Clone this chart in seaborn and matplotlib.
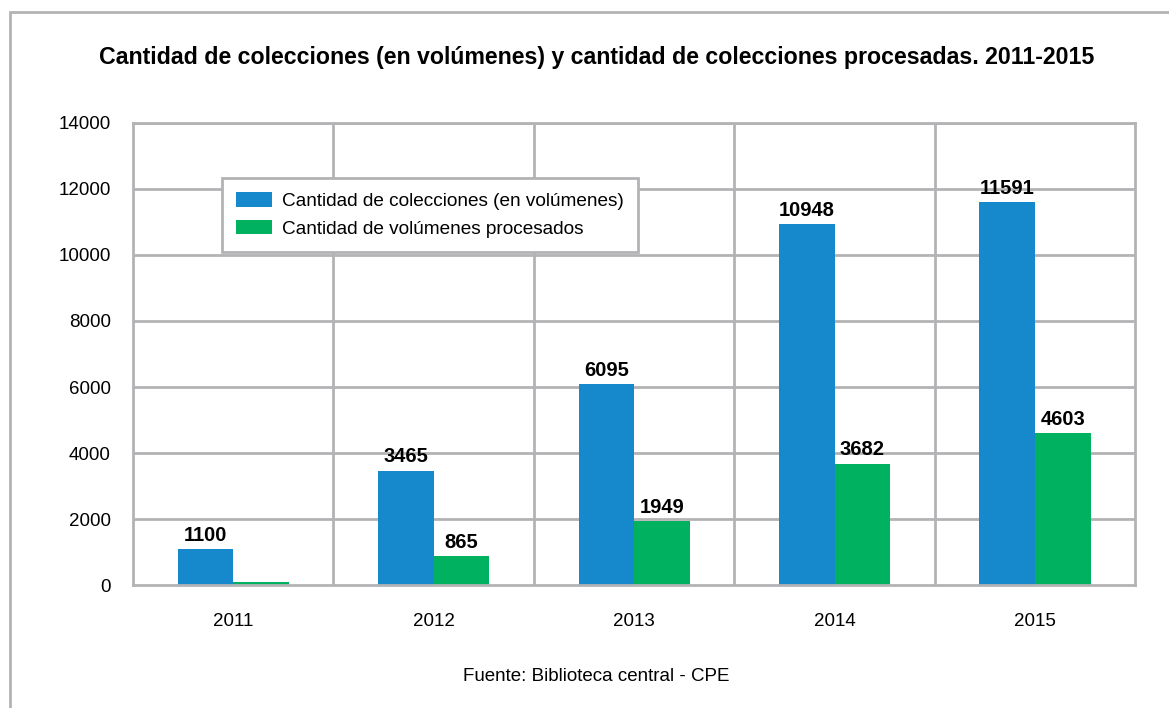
import pandas as pd
import matplotlib.pyplot as plt
import seaborn as sns
from matplotlib.patches import Rectangle

years = ["2011", "2012", "2013", "2014", "2015"]
colecciones = [1100, 3465, 6095, 10948, 11591]
procesados = [90, 865, 1949, 3682, 4603]
label_colecciones = ["1100", "3465", "6095", "10948", "11591"]
label_procesados = ["", "865", "1949", "3682", "4603"]
series = ["Cantidad de colecciones (en volúmenes)", "Cantidad de volúmenes procesados"]
colors = ["#1589CB", "#00B160"]

df = pd.DataFrame({
    "Year": years * 2,
    "Valor": colecciones + procesados,
    "Serie": [series[0]] * len(years) + [series[1]] * len(years),
})

sns.set_theme(style="white")
plt.rcParams["font.family"] = ["Liberation Sans", "DejaVu Sans"]
plt.rcParams["text.color"] = "black"
grid_c = "#b3b3b5"

fig = plt.figure(figsize=(11.69, 7.08), dpi=100)
ax = fig.add_axes([0.1138, 0.1737, 0.8573, 0.6526])

sns.barplot(data=df, x="Year", y="Valor", hue="Serie", palette=colors,
            width=0.555, saturation=1, linewidth=0, ax=ax, legend=True)

ax.set_ylim(0, 14000)
ax.set_xlim(-0.5, len(years) - 0.5)
ax.set_yticks(range(0, 14001, 2000))
ax.set_xlabel("")
ax.set_ylabel("")

# grid: horizontal at ticks, vertical at category boundaries
for y in range(2000, 14001, 2000):
    ax.axhline(y, color=grid_c, lw=2, zorder=0)
for i in range(1, len(years)):
    ax.axvline(i - 0.5, color=grid_c, lw=2, zorder=0)
for s in ax.spines.values():
    s.set_color(grid_c)
    s.set_linewidth(2)
    s.set_visible(True)

ax.tick_params(axis="both", length=0, labelsize=13.5, colors="black")
ax.tick_params(axis="x", pad=20)
ax.tick_params(axis="y", pad=16)

for cont, labs in zip(ax.containers, [label_colecciones, label_procesados]):
    ax.bar_label(cont, labels=labs, padding=3, fontsize=14.5, fontweight="bold",
                 color="black")

leg = ax.legend(loc="upper left", bbox_to_anchor=(0.0888, 0.881), borderaxespad=0,
                frameon=True, fancybox=False, edgecolor=grid_c, framealpha=1,
                fontsize=13.7, handlelength=1.9, handleheight=0.8,
                handletextpad=0.5, labelspacing=0.5, borderpad=0.75)
leg.get_frame().set_linewidth(2)
for t in leg.get_texts():
    t.set_color("black")

fig.text(0.51, 0.919, "Cantidad de colecciones (en volúmenes) y cantidad de colecciones procesadas. 2011-2015",
         ha="center", va="center", fontsize=16.7, fontweight="bold")
fig.text(0.51, 0.044, "Fuente: Biblioteca central - CPE", ha="center", va="center", fontsize=13.5)

fig.patches.append(Rectangle((10 / 1169, -0.1), 1.2, 0.1 + (708 - 12) / 708,
                             transform=fig.transFigure, fill=False,
                             edgecolor=grid_c, lw=2))

fig.savefig("out.png", dpi=100)
